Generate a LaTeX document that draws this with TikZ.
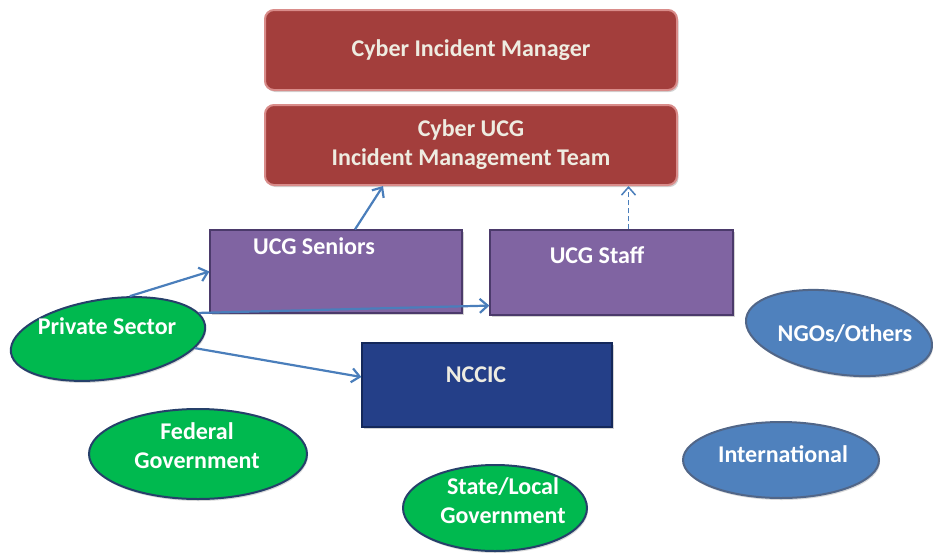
\documentclass[tikz,border=0pt]{standalone}
\usepackage{fontspec}
\setmainfont{Carlito}
\usetikzlibrary{arrows.meta}
\usetikzlibrary{shapes}
\usetikzlibrary{shadows}

\definecolor{cimred}{HTML}{A33E3C}
\definecolor{cimredline}{HTML}{D98C8A}
\definecolor{cream}{HTML}{EEECE1}
\definecolor{ucgpurple}{HTML}{8064A2}
\definecolor{ucgline}{HTML}{4B3A6B}
\definecolor{ncnavy}{HTML}{243F88}
\definecolor{ncline}{HTML}{14285A}
\definecolor{orggreen}{HTML}{00B94F}
\definecolor{orgblue}{HTML}{4F81BD}
\definecolor{ovalline}{HTML}{26406A}
\definecolor{linkblue}{HTML}{4A7EBB}

\begin{document}
\begin{tikzpicture}[x=1pt,y=-1pt,
  redbox/.style={rectangle, rounded corners=9pt, fill=cimred, draw=cimredline,
    line width=2pt, minimum width=412pt, minimum height=80pt, text=cream,
    font=\fontsize{24}{29}\selectfont\bfseries, align=center,
    drop shadow={shadow xshift=1.5pt, shadow yshift=-2pt, opacity=.35}},
  ucgbox/.style={rectangle, fill=ucgpurple, draw=ucgline, line width=1.2pt,
    drop shadow={shadow xshift=1.5pt, shadow yshift=-2pt, opacity=.35}},
  ncbox/.style={rectangle, fill=ncnavy, draw=ncline, line width=1.2pt,
    drop shadow={shadow xshift=1.5pt, shadow yshift=-2pt, opacity=.35}},
  greenoval/.style={ellipse, fill=orggreen, draw=ovalline, line width=2pt,
    drop shadow={shadow xshift=1pt, shadow yshift=-2pt, opacity=.3}},
  blueoval/.style={ellipse, fill=orgblue, draw=ovalline!80, line width=2pt,
    drop shadow={shadow xshift=1pt, shadow yshift=-2pt, opacity=.3}},
  lbl/.style={text=white, font=\fontsize{24}{29}\selectfont\bfseries, align=center},
  conn/.style={draw=linkblue, line width=2.2pt, -{Straight Barb[length=8pt,width=14pt]}}]
 \useasboundingbox (0,0) rectangle (933,552);

 %% top boxes
 \node[redbox] (mgr) at (471,50) {Cyber Incident Manager};
 \node[redbox] (imt) at (471,145) {Cyber UCG\\Incident Management Team};

 %% UCG and NCCIC
 \node[ucgbox, minimum width=252pt, minimum height=83pt] (seniors) at (336,271.5) {};
 \node[lbl] (seniors-t) at (314,246) {UCG Seniors};
 \node[ucgbox, minimum width=243pt, minimum height=85pt] (staff) at (611.5,272.5) {};
 \node[lbl] (staff-t) at (597,255) {UCG Staff};
 \node[ncbox, minimum width=250pt, minimum height=84pt] (nccic) at (487,385) {};
 \node[lbl, text=cream] (nccic-t) at (476,375) {NCCIC};

 %% organisations
 \node[greenoval, minimum width=196pt, minimum height=80pt, rotate=8] (priv) at (108,339) {};
 \node[lbl] (priv-t) at (107,326) {Private Sector};
 \node[greenoval, minimum width=218pt, minimum height=90pt] (fed) at (198,454) {};
 \node[lbl] (fed-t) at (197,446) {Federal\\Government};
 \node[greenoval, minimum width=184pt, minimum height=86pt] (state) at (495,508) {};
 \node[lbl] (state-t) at (503,501) {State/Local\\Government};
 \node[blueoval, minimum width=188pt, minimum height=82pt, rotate=-9] (ngo) at (839,333) {};
 \node[lbl] (ngo-t) at (845,334) {NGOs/Others};
 \node[blueoval, minimum width=196pt, minimum height=76pt] (intl) at (781,460) {};
 \node[lbl] (intl-t) at (783,454) {International};

 %% links
 \draw[conn] (priv.55) -- (seniors.west);
 \draw[conn] (priv.8) -- ([yshift=10pt]staff.south west);
 \draw[conn] (priv.-14) -- ([yshift=8pt]nccic.west);
 \draw[conn] ([xshift=19pt]seniors.north) -- ([xshift=-88pt]imt.south);
 \draw[conn, line width=1.5pt, dash pattern=on 5pt off 3pt]
   ([xshift=17pt]staff.north) -- ([xshift=17pt]staff.north |- imt.south);
\end{tikzpicture}
\end{document}
